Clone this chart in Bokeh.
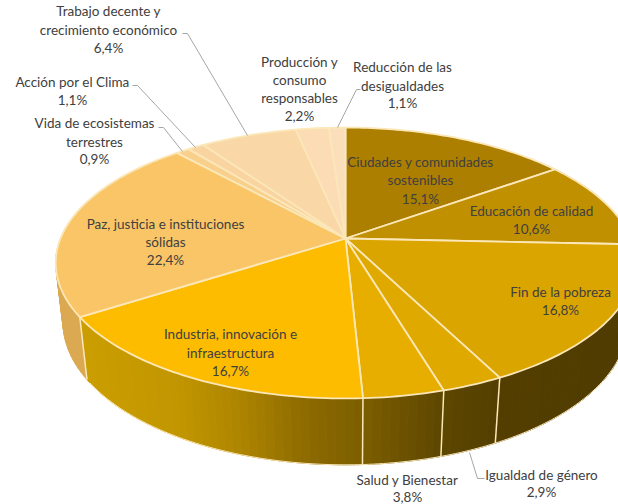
import math
import numpy as np
from bokeh.plotting import figure
from bokeh.embed import file_html
from bokeh.resources import INLINE
from bokeh.core.properties import value

# ---- data (clockwise from 12 o'clock) ----
names = ["Ciudades y comunidades sostenibles", "Educación de calidad", "Fin de la pobreza",
         "Igualdad de género", "Salud y Bienestar", "Industria, innovación e infraestructura",
         "Paz, justicia e instituciones sólidas", "Vida de ecosistemas terrestres",
         "Acción por el Clima", "Trabajo decente y crecimiento económico",
         "Producción y consumo responsables", "Reducción de las desigualdades"]
shares = [15.1, 10.6, 16.8, 2.9, 3.8, 16.7, 22.4, 0.9, 1.1, 6.4, 2.2, 1.1]
share_labels = ["15,1%", "10,6%", "16,8%", "2,9%", "3,8%", "16,7%", "22,4%", "0,9%", "1,1%", "6,4%", "2,2%", "1,1%"]

# ---- style ----
top_colors = ["#ad7f00", "#c09000", "#dba500", "#e0a900", "#e7ae00", "#fdbc00",
              "#f9c566", "#f9cf8c", "#fad4a0", "#fad7a6", "#fbdcb4", "#fbdfbb"]
edge = "#fbe7b8"
text_col = "#404040"
leader_col = "#a6a6a6"
font = value("Lato")
fsize = "13.5px"

# ---- projection of the tilted disc ----
CX, CY, A, B, K = 345, 238, 285, 131, 0.181
DEPTH, M = 60, 0.025

def top_pt(t):
    x, y = math.sin(t), math.cos(t)
    w = 1 + K * y
    return CX + A * x / w, CY - B * y / w

def bot_pt(t):
    x, y = math.sin(t), math.cos(t)
    w = 1 + K * y + M
    return CX + A * x / w, CY + (-B * y + DEPTH) / w

stops_x = [60, 85, 180, 240, 300, 364, 440, 500, 618]
stops_c = [(0xcf, 0xa0, 0x00), (0xcb, 0x9e, 0x00), (0xc2, 0x96, 0x00), (0xad, 0x85, 0x00),
           (0x90, 0x6d, 0x00), (0x7c, 0x5e, 0x00), (0x5e, 0x47, 0x00), (0x54, 0x3f, 0x00), (0x50, 0x3c, 0x00)]

def side_color(x):
    rgb = [int(np.interp(x, stops_x, [c[i] for c in stops_c])) for i in range(3)]
    return "#%02x%02x%02x" % tuple(rgb)

total = sum(shares)
bounds = [0.0]
for s in shares:
    bounds.append(bounds[-1] + s / total * 2 * math.pi)

p = figure(width=618, height=504, x_range=(0, 618), y_range=(504, 0),
           output_backend="svg", toolbar_location=None, min_border=0,
           outline_line_color=None, background_fill_color="white")
p.margin = (0, 0, 0, 0)
p.axis.visible = False
p.grid.visible = False

# side wall facets
sx, sy, sc = [], [], []
lo, hi = math.radians(50), math.radians(310)
for i in range(len(shares)):
    a0, a1 = max(bounds[i], lo), min(bounds[i + 1], hi)
    if a1 <= a0:
        continue
    n = max(1, int((a1 - a0) / math.radians(1.5)))
    for j in range(n):
        t0 = a0 + (a1 - a0) * j / n
        t1 = a0 + (a1 - a0) * (j + 1) / n
        q = [top_pt(t0), top_pt(t1), bot_pt(t1), bot_pt(t0)]
        sx.append([c[0] for c in q])
        sy.append([c[1] for c in q])
        sc.append("#dba951" if i == 6 else side_color(sum(c[0] for c in q) / 4))
p.patches(sx, sy, fill_color=sc, line_color=sc, line_width=1)

# pale rim under the wall and wall separators
ts = np.linspace(math.radians(100), math.radians(236), 160)
b = [bot_pt(t) for t in ts]
p.line([c[0] for c in b], [c[1] for c in b], line_color=edge, line_width=1)
for i in range(len(shares) + 1):
    t = bounds[i]
    if math.radians(100) < t < math.radians(260):
        u, v = top_pt(t), bot_pt(t)
        p.line([u[0], v[0]], [u[1], v[1]], line_color=edge, line_width=1.5)

# top surface
wx, wy = [], []
for i in range(len(shares)):
    n = max(3, int((bounds[i + 1] - bounds[i]) / math.radians(1)))
    ang = np.linspace(bounds[i], bounds[i + 1], n)
    pts = [top_pt(t) for t in ang]
    wx.append([CX] + [c[0] for c in pts])
    wy.append([CY] + [c[1] for c in pts])
p.patches(wx, wy, fill_color=top_colors, line_color=edge, line_width=1.8, line_join="round")

# leader lines
leaders = [([182, 187, 247], [33, 33, 135]),
           ([132, 137, 195], [85, 85, 147]),
           ([158, 163, 182], [127, 127, 151]),
           ([360, 356, 337], [89, 89, 127]),
           ([484, 477, 469], [478, 478, 452])]
for lx, ly in leaders:
    p.line(lx, ly, line_color=leader_col, line_width=1)

# labels: one line of text per row, split as in the picture
layout = [
    (420, [161, 179, 198], ["Ciudades y comunidades", "sostenibles"], 0),
    (531, [210, 228], ["Educación de calidad"], 1),
    (560, [291, 309], ["Fin de la pobreza"], 2),
    (541, [474, 491], ["Igualdad de género"], 3),
    (407, [479, 496], ["Salud y Bienestar"], 4),
    (230, [333, 352, 370], ["Industria, innovación e", "infraestructura"], 5),
    (165, [223, 241, 259], ["Paz, justicia e instituciones", "sólidas"], 6),
    (94, [122, 141, 158], ["Vida de ecosistemas", "terrestres"], 7),
    (72, [81, 99], ["Acción por el Clima"], 8),
    (108, [10, 29, 47], ["Trabajo decente y", "crecimiento económico"], 9),
    (299, [61, 79, 97, 115], ["Producción y", "consumo", "responsables"], 10),
    (402, [66, 85, 102], ["Reducción de las", "desigualdades"], 11),
]
tx, ty, tt = [], [], []
for x, ys, rows, idx in layout:
    for y, row in zip(ys, rows + [share_labels[idx]]):
        tx.append(x)
        ty.append(y)
        tt.append(row)
p.text(tx, ty, text=tt, text_font=font, text_font_size=fsize, text_color=text_col,
       text_align="center", text_baseline="middle")

open("out.html", "w").write(file_html(p, INLINE))
